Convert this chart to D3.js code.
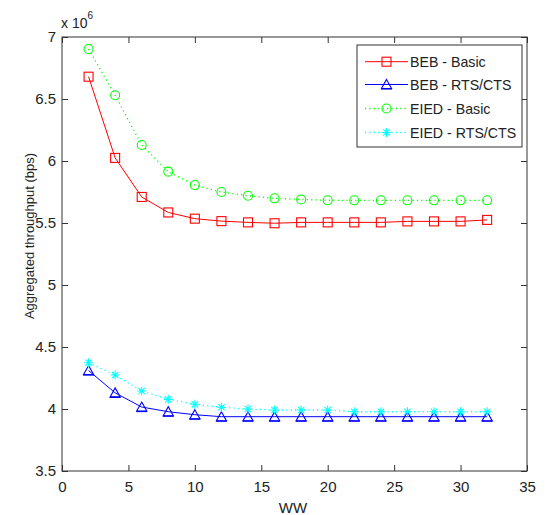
<!DOCTYPE html>
<html>
<head>
<meta charset="utf-8">
<script src="https://cdn.jsdelivr.net/npm/d3@7"></script>
<style>
  html, body { margin: 0; padding: 0; background: #fff; }
  svg { display: block; font-family: "Liberation Sans", Arial, sans-serif; }
</style>
</head>
<body>
<svg id="chart" width="545" height="515"></svg>
<script>
// ---- data ----
const ww = [2, 4, 6, 8, 10, 12, 14, 16, 18, 20, 22, 24, 26, 28, 30, 32];
const bebBasic  = [6.68, 6.025, 5.71, 5.585, 5.535, 5.515, 5.505, 5.498, 5.505, 5.505, 5.505, 5.505, 5.513, 5.513, 5.513, 5.525];
const bebRts    = [4.31, 4.13, 4.016, 3.978, 3.954, 3.938, 3.938, 3.938, 3.938, 3.938, 3.938, 3.938, 3.938, 3.938, 3.938, 3.938];
const eiedBasic = [6.903, 6.53, 6.129, 5.914, 5.806, 5.75, 5.72, 5.699, 5.69, 5.683, 5.683, 5.683, 5.683, 5.683, 5.683, 5.683];
const eiedRts   = [4.373, 4.274, 4.145, 4.078, 4.038, 4.014, 4.0, 3.992, 3.992, 3.992, 3.978, 3.978, 3.978, 3.978, 3.978, 3.978];
const xTicks = [0, 5, 10, 15, 20, 25, 30, 35];
const yTicks = [3.5, 4, 4.5, 5, 5.5, 6, 6.5, 7];
const seriesNames = ["BEB - Basic", "BEB - RTS/CTS", "EIED - Basic", "EIED - RTS/CTS"];
const xLabel = "WW";
const yLabel = "Aggregated throughput (bps)";

// ---- layout ----
const svg = d3.select("#chart");
const L = 62, R = 527, T = 37, B = 471;
const x = d3.scaleLinear().domain([0, 35]).range([L, R]);
const y = d3.scaleLinear().domain([3.5, 7]).range([B, T]);

const series = [
  { name: seriesNames[0], values: bebBasic,  color: "#ff0000", dash: null,  marker: "square" },
  { name: seriesNames[1], values: bebRts,    color: "#0000ff", dash: null,  marker: "triangle" },
  { name: seriesNames[2], values: eiedBasic, color: "#00ff00", dash: "1.2,3.2", marker: "circle" },
  { name: seriesNames[3], values: eiedRts,   color: "#00ffff", dash: "1.2,3.2", marker: "star" }
];

svg.append("rect").attr("x", L).attr("y", T).attr("width", R - L).attr("height", B - T)
  .attr("fill", "#fff");

const axisColor = "#333";
const fontSize = 15;

function styleAxis(g) {
  g.select(".domain").remove();
  g.selectAll(".tick line").attr("stroke", axisColor);
  g.selectAll(".tick text").attr("fill", "#222").attr("font-size", fontSize)
    .attr("font-family", "'Liberation Sans', Arial, sans-serif");
}

svg.append("g").attr("transform", `translate(0,${B})`)
  .call(d3.axisBottom(x).tickValues(xTicks).tickFormat(d3.format("d")).tickSizeInner(-6).tickSizeOuter(0).tickPadding(10))
  .call(styleAxis);
svg.append("g").attr("transform", `translate(0,${T})`)
  .call(d3.axisTop(x).tickValues(xTicks).tickFormat("").tickSizeInner(-6).tickSizeOuter(0))
  .call(styleAxis);
svg.append("g").attr("transform", `translate(${L},0)`)
  .call(d3.axisLeft(y).tickValues(yTicks).tickFormat(d => d3.format("")(d)).tickSizeInner(-6).tickSizeOuter(0).tickPadding(6))
  .call(styleAxis);
svg.append("g").attr("transform", `translate(${R},0)`)
  .call(d3.axisRight(y).tickValues(yTicks).tickFormat("").tickSizeInner(-6).tickSizeOuter(0))
  .call(styleAxis);

svg.append("rect").attr("x", L).attr("y", T).attr("width", R - L).attr("height", B - T)
  .attr("fill", "none").attr("stroke", axisColor).attr("stroke-width", 1);

const expo = svg.append("text").attr("x", 61).attr("y", 28).attr("font-size", 14).attr("fill", "#222");
expo.append("tspan").text("x 10");
expo.append("tspan").attr("dy", -9).attr("font-size", 10).text("6");

svg.append("text").attr("x", 293).attr("y", 513).attr("text-anchor", "middle")
  .attr("font-size", 15).attr("fill", "#222").text(xLabel);
svg.append("text").attr("transform", "translate(34,236) rotate(-90)").attr("text-anchor", "middle")
  .attr("font-size", 13).attr("fill", "#222").text(yLabel);

function drawMarker(g, type, cx, cy, color) {
  if (type === "square") {
    g.append("rect").attr("x", cx - 4.5).attr("y", cy - 4.5).attr("width", 9).attr("height", 9)
      .attr("fill", "none").attr("stroke", color).attr("stroke-width", 1.1);
  } else if (type === "circle") {
    g.append("circle").attr("cx", cx).attr("cy", cy).attr("r", 4.5)
      .attr("fill", "none").attr("stroke", color).attr("stroke-width", 1.1);
  } else if (type === "triangle") {
    g.append("path").attr("d", `M${cx},${cy - 5} L${cx + 5},${cy + 4} L${cx - 5},${cy + 4} Z`)
      .attr("fill", "none").attr("stroke", color).attr("stroke-width", 1.1);
    g.append("line").attr("x1", cx - 5.5).attr("x2", cx + 5.5).attr("y1", cy + 4.5).attr("y2", cy + 4.5)
      .attr("stroke", color).attr("stroke-width", 1.2);
  } else if (type === "star") {
    const r = 4.5, d = 3.2;
    const p = `M${cx - r},${cy} L${cx + r},${cy} M${cx},${cy - r} L${cx},${cy + r} ` +
              `M${cx - d},${cy - d} L${cx + d},${cy + d} M${cx - d},${cy + d} L${cx + d},${cy - d}`;
    g.append("path").attr("d", p).attr("fill", "none").attr("stroke", color).attr("stroke-width", 1.1);
  }
}

const line = d3.line().x(d => x(d[0])).y(d => y(d[1]));
const plot = svg.append("g");
series.forEach(s => {
  const pts = ww.map((w, i) => [w, s.values[i]]);
  const path = plot.append("path").datum(pts).attr("d", line)
    .attr("fill", "none").attr("stroke", s.color).attr("stroke-width", 1);
  if (s.dash) path.attr("stroke-dasharray", s.dash).attr("stroke-width", 1.3);
  const mg = plot.append("g");
  pts.forEach(p => drawMarker(mg, s.marker, x(p[0]), y(p[1]), s.color));
});

const lg = svg.append("g");
lg.append("rect").attr("x", 357).attr("y", 45).attr("width", 165).attr("height", 102)
  .attr("fill", "#fff").attr("stroke", axisColor).attr("stroke-width", 1);
const rowY = [61.7, 84.5, 108.5, 132.5];
series.forEach((s, i) => {
  const ly = rowY[i];
  const ln = lg.append("line").attr("x1", 365).attr("x2", 408).attr("y1", ly).attr("y2", ly)
    .attr("stroke", s.color).attr("stroke-width", 1);
  if (s.dash) ln.attr("stroke-dasharray", s.dash).attr("stroke-width", 1.3);
  drawMarker(lg, s.marker, 386.5, ly, s.color);
  lg.append("text").attr("x", 410).attr("y", ly + 5).attr("font-size", 14.2).attr("fill", "#222").text(s.name);
});
</script>
</body>
</html>
